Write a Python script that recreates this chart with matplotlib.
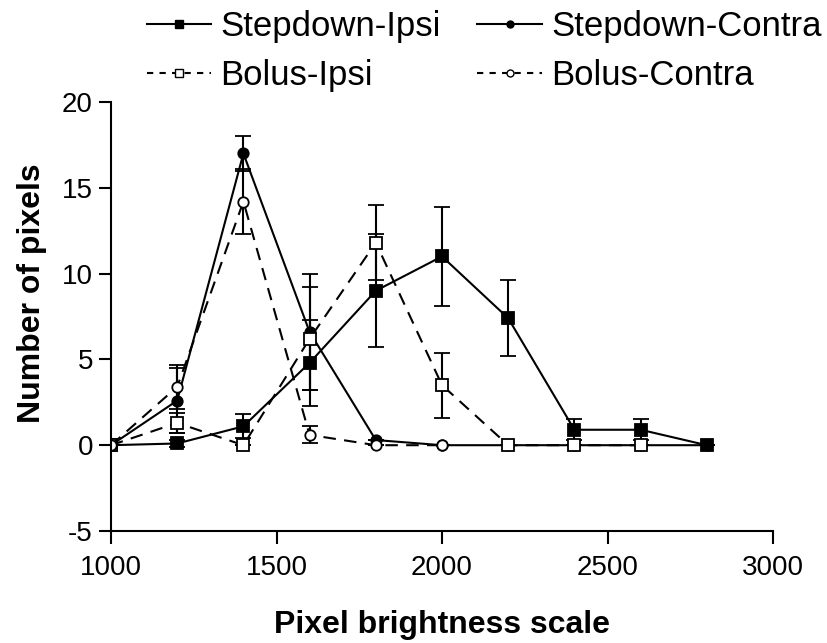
import matplotlib
matplotlib.use("Agg")
import matplotlib.pyplot as plt
from matplotlib.lines import Line2D

plt.rcParams['font.family'] = ['Liberation Sans', 'DejaVu Sans']
plt.rcParams['axes.unicode_minus'] = False

# 데이터
x = [1000, 1200, 1400, 1600, 1800, 2000, 2200, 2400, 2600, 2800]
stepdown_ipsi = [0, 0.1, 1.1, 4.8, 9.0, 11.0, 7.4, 0.9, 0.9, 0]
stepdown_ipsi_err = [0, 0.2, 0.7, 2.5, 3.3, 2.9, 2.2, 0.6, 0.6, 0]
stepdown_contra = [0, 2.6, 17.0, 6.6, 0.3, 0, 0, 0, 0, 0]
stepdown_contra_err = [0, 1.9, 1.0, 3.4, 0, 0, 0, 0, 0, 0]
bolus_ipsi = [0, 1.3, 0, 6.2, 11.8, 3.5, 0, 0, 0]
bolus_ipsi_err = [0, 0.6, 0, 3.0, 2.2, 1.9, 0, 0, 0]
bolus_contra = [0, 3.4, 14.2, 0.6, 0, 0]
bolus_contra_err = [0, 1.3, 1.9, 0.5, 0, 0]
labels = ['Stepdown-Ipsi', 'Bolus-Ipsi', 'Stepdown-Contra', 'Bolus-Contra']

fig = plt.figure(figsize=(8.28, 6.43), dpi=100)
ax = fig.add_axes([111 / 828, 1 - 531 / 643, 662 / 828, 429 / 643])

common = dict(color='black', lw=1.5, capsize=5.5, elinewidth=1.5, capthick=1.5, mec='black', mew=1.3)
ax.errorbar(x, stepdown_ipsi, yerr=stepdown_ipsi_err, fmt='-s', mfc='black', markersize=8, **common)
ax.errorbar(x, stepdown_contra, yerr=stepdown_contra_err, fmt='-o', mfc='black', markersize=7.5, **common)
eb3 = ax.errorbar(x[:len(bolus_ipsi)], bolus_ipsi, yerr=bolus_ipsi_err, fmt='--s', mfc='white', markersize=8,
                  **common)
eb4 = ax.errorbar(x[:len(bolus_contra)], bolus_contra, yerr=bolus_contra_err, fmt='--o', mfc='white',
                  markersize=7.5, **common)
eb3[0].set_dashes((6, 4))
eb4[0].set_dashes((6, 4))

ax.set_xlim(1000, 3000)
ax.set_ylim(-5, 20)
ax.set_xticks([1000, 1500, 2000, 2500, 3000])
ax.set_yticks([-5, 0, 5, 10, 15, 20])
ax.spines['top'].set_visible(False)
ax.spines['right'].set_visible(False)
ax.spines['left'].set_linewidth(1.5)
ax.spines['bottom'].set_linewidth(1.5)
ax.tick_params(width=1.5, length=9, labelsize=20)
ax.tick_params(axis='x', pad=8)
ax.tick_params(axis='y', pad=4)
ax.set_xlabel('Pixel brightness scale', fontsize=23, fontweight='bold')
ax.set_ylabel('Number of pixels', fontsize=23, fontweight='bold')
ax.xaxis.set_label_coords(0.5, -0.185)
ax.yaxis.set_label_coords(-0.096, 0.555)

# 범례용 핸들 (error bar 없이)
handles = [
    Line2D([], [], color='black', lw=1.5, marker='s', mfc='black', mec='black', markersize=5.5),
    Line2D([], [], color='black', lw=1.5, marker='s', mfc='white', mec='black', markersize=5.5, dashes=(3, 3)),
    Line2D([], [], color='black', lw=1.5, marker='o', mfc='black', mec='black', markersize=5),
    Line2D([], [], color='black', lw=1.5, marker='o', mfc='white', mec='black', markersize=5, dashes=(3, 3)),
]
fig.legend(handles, labels, loc='upper left', bbox_to_anchor=(147 / 828, 1 - 10 / 643), ncol=2, frameon=False,
           fontsize=25, handlelength=1.85, handletextpad=0.27, columnspacing=1.05, labelspacing=0.47,
           borderpad=0, borderaxespad=0)

fig.savefig('out.png', dpi=100)
